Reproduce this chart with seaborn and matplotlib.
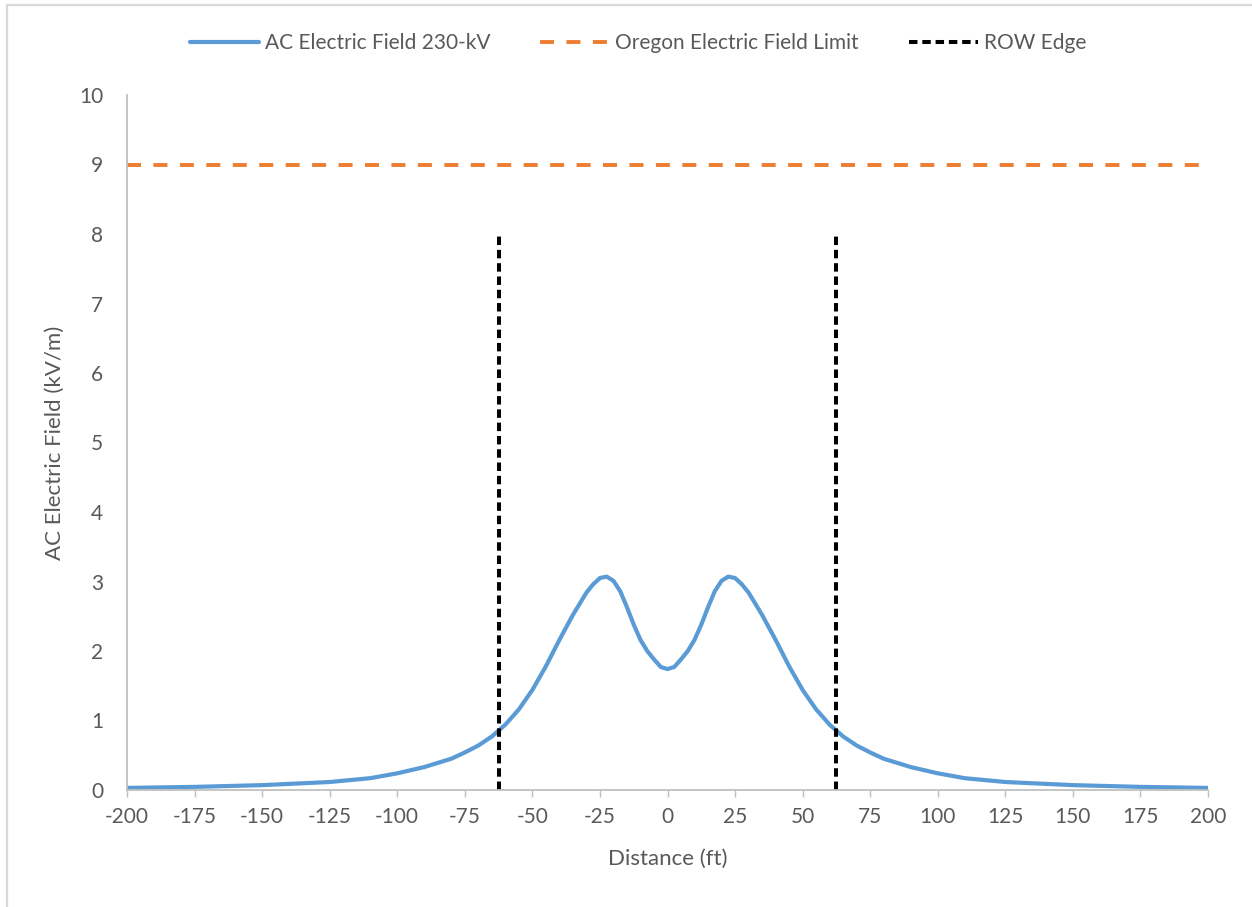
import numpy as np
import pandas as pd
import matplotlib
matplotlib.use("Agg")
import matplotlib.pyplot as plt
import seaborn as sns
from matplotlib.lines import Line2D
from matplotlib.patches import Rectangle

# ── Data ──────────────────────────────────────────────────────────
distance_ft = [-200, -175, -150, -125, -110, -100, -90, -80, -75, -70, -65, -60,
               -55, -50, -45, -40, -35, -30, -27.5, -25, -22.5, -20, -17.5, -15,
               -12.5, -10, -7.5, -5, -2.5, 0, 2.5, 5, 7.5, 10, 12.5, 15, 17.5,
               20, 22.5, 25, 27.5, 30, 35, 40, 45, 50, 55, 60, 65, 70, 75, 80,
               90, 100, 110, 125, 150, 175, 200]
efield_kvm = [0.03, 0.045, 0.07, 0.115, 0.17, 0.24, 0.33, 0.45, 0.54, 0.64, 0.77, 0.94,
              1.16, 1.44, 1.78, 2.16, 2.52, 2.84, 2.96, 3.05, 3.07, 3.01, 2.86, 2.63,
              2.38, 2.16, 2.00, 1.88, 1.77, 1.74, 1.77, 1.88, 2.00, 2.16, 2.38, 2.63, 2.86,
              3.01, 3.07, 3.05, 2.96, 2.84, 2.52, 2.16, 1.78, 1.44, 1.16, 0.94, 0.77, 0.64, 0.54, 0.45,
              0.33, 0.24, 0.17, 0.115, 0.07, 0.045, 0.03]
OREGON_LIMIT = 9.0
ROW_EDGES    = [-62.5, 62.5]
ROW_TOP      = 8.0

X_TICKS = list(range(-200, 201, 25))
Y_TICKS = list(range(0, 11))

BLUE, ORANGE, BLACK = '#5B9BD5', '#ED7D31', '#000000'
TEXT  = '#595959'
SPINE = '#BFBFBF'

df = pd.DataFrame({'distance': distance_ft, 'field': efield_kvm})

# ── Plot ──────────────────────────────────────────────────────────
sns.set_theme(style='white')
plt.rcParams['font.family'] = ['Lato', 'DejaVu Sans']
plt.rcParams['axes.unicode_minus'] = False

fig = plt.figure(figsize=(12.52, 9.07), dpi=100)
ax = fig.add_axes([127/1252, 1 - 790/907, (1208 - 127)/1252, (790 - 95)/907])

sns.lineplot(data=df, x='distance', y='field', color=BLUE, linewidth=3.0, ax=ax,
             solid_capstyle='round', solid_joinstyle='round')
ax.axhline(OREGON_LIMIT, color=ORANGE, linewidth=2.8, dashes=(3.6, 3.2))
ax.vlines(ROW_EDGES, 0, ROW_TOP, colors=BLACK, linewidth=2.9, linestyles=(0, (2.1, 1.2)))

ax.set_xlim(-200, 200); ax.set_ylim(0, 10)
ax.set_xticks(X_TICKS); ax.set_yticks(Y_TICKS)
ax.set_xlabel('Distance (ft)', fontsize=16, color=TEXT, labelpad=16)
ax.set_ylabel('AC Electric Field (kV/m)', fontsize=16, color=TEXT, labelpad=10)
ax.tick_params(axis='x', length=5, width=1, color=SPINE, labelsize=15, labelcolor=TEXT, pad=7,
               direction='out', bottom=True)
ax.tick_params(axis='y', length=0, labelsize=15, labelcolor=TEXT, pad=17)
for side in ['top', 'right']:
    ax.spines[side].set_visible(False)
for side in ['left', 'bottom']:
    ax.spines[side].set_color(SPINE)
    ax.spines[side].set_linewidth(1.3)
ax.grid(False)

handles = [
    Line2D([], [], color=BLUE, linewidth=3.0),
    Line2D([], [], color=ORANGE, linewidth=2.8, dashes=(3.6, 3.2)),
    Line2D([], [], color=BLACK, linewidth=2.9, linestyle=(0, (2.1, 1.2))),
]
labels = ['AC Electric Field 230-kV', 'Oregon Electric Field Limit', 'ROW Edge']
leg = fig.legend(handles, labels, loc='center', bbox_to_anchor=(638/1252, 1 - 43/907),
                 ncol=3, frameon=False, fontsize=15, handlelength=3.3, handletextpad=0.3,
                 columnspacing=2.4, labelcolor=TEXT)

# chart-area border (Excel style), only top and left visible in the crop
fig.patches.append(Rectangle((7/1252, -0.1), 1.2, 1 - 5/907 + 0.1, transform=fig.transFigure,
                             fill=False, edgecolor='#D9D9D9', linewidth=1.6))

plt.savefig('out.png', dpi=100)
